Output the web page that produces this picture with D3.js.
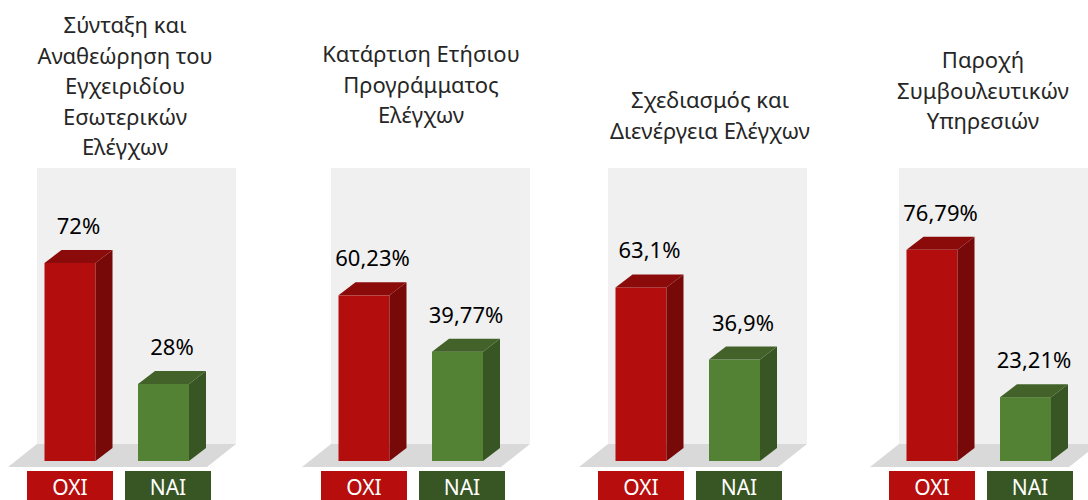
<!DOCTYPE html>
<html>
<head>
<meta charset="utf-8">
<script src="https://cdn.jsdelivr.net/npm/d3@7"></script>
<style>
  body { margin: 0; background: #fff; }
  text { font-family: "Noto Sans", "Open Sans", sans-serif; }
</style>
</head>
<body>
<div id="chart"></div>
<script>
// Four small 3D bar panels: ΟΧΙ / ΝΑΙ answers per question

// Data
const panelTitles = [
    ["Σύνταξη και", "Αναθεώρηση του", "Εγχειριδίου", "Εσωτερικών", "Ελέγχων"],
    ["Κατάρτιση Ετήσιου", "Προγράμματος", "Ελέγχων"],
    ["Σχεδιασμός και", "Διενέργεια Ελέγχων"],
    ["Παροχή", "Συμβουλευτικών", "Υπηρεσιών"]
];
const categories = ["ΟΧΙ", "ΝΑΙ"];
const oxiValues = [72, 60.23, 63.1, 76.79];
const naiValues = [28, 39.77, 36.9, 23.21];

// Layout (panels are not evenly spaced in the original)
const width = 1088;
const height = 500;
const panelLeft = [37, 331, 608, 899];
const titleCenter = [125, 421, 710, 983];
const titleTop = [33, 62, 108, 68];
const wallW = 199, wallTop = 168, floorBack = 444;
const floorDx = -29, floorDy = 23;
const depthX = 17, depthY = -13;

const colors = {
    "ΟΧΙ": {front: "#b30d0d", side: "#770909", top: "#8b0b0b", key: "#b80d0d"},
    "ΝΑΙ": {front: "#548235", side: "#375623", top: "#42622a", key: "#375623"}
};

const svg = d3.select("#chart")
    .append("svg")
    .attr("width", width)
    .attr("height", height);

// scales
const yScale = d3.scaleLinear()
    .domain([0, 100])
    .range([461, 186]);

// bars inside one panel
const xInner = d3.scaleBand()
    .domain(categories)
    .range([7.5, 152])
    .paddingInner(0.4545)
    .paddingOuter(0);

// coloured key boxes under each panel
const xKey = d3.scaleBand()
    .domain(categories)
    .range([-10, 174])
    .paddingInner(0.1224)
    .paddingOuter(0);

const fmt = v => String(v).replace(".", ",") + "%";

panelTitles.forEach((lines, i) => {
    const g = svg.append("g")
        .attr("transform", `translate(${panelLeft[i]}, 0)`);

    // back wall
    g.append("rect")
        .attr("x", 0)
        .attr("y", wallTop)
        .attr("width", wallW)
        .attr("height", floorBack - wallTop)
        .attr("fill", "#f0f0f0");

    // floor
    g.append("path")
        .attr("d", `M0,${floorBack} L${wallW},${floorBack} L${wallW + floorDx},${floorBack + floorDy} L${floorDx},${floorBack + floorDy} Z`)
        .attr("fill", "#d9d9d9");

    const rows = [
        {cat: "ΟΧΙ", value: oxiValues[i]},
        {cat: "ΝΑΙ", value: naiValues[i]}
    ];

    rows.forEach(d => {
        const x0 = xInner(d.cat);
        const x1 = x0 + xInner.bandwidth();
        const yt = yScale(d.value);
        const yb = yScale(0);
        const c = colors[d.cat];

        // front face
        g.append("rect")
            .attr("x", x0)
            .attr("y", yt)
            .attr("width", x1 - x0)
            .attr("height", yb - yt)
            .attr("fill", c.front);

        // side face
        g.append("path")
            .attr("d", `M${x1},${yt} L${x1 + depthX},${yt + depthY} L${x1 + depthX},${yb + depthY} L${x1},${yb} Z`)
            .attr("fill", c.side);

        // top face
        g.append("path")
            .attr("d", `M${x0},${yt} L${x1},${yt} L${x1 + depthX},${yt + depthY} L${x0 + depthX},${yt + depthY} Z`)
            .attr("fill", c.top);

        // value label
        g.append("text")
            .attr("x", (x0 + x1 + depthX) / 2)
            .attr("y", yt + depthY - 16)
            .attr("text-anchor", "middle")
            .style("font-size", "22px")
            .style("fill", "#000")
            .text(fmt(d.value));

        // category key box below
        const kx = xKey(d.cat);
        g.append("rect")
            .attr("x", kx)
            .attr("y", 471)
            .attr("width", xKey.bandwidth())
            .attr("height", 32)
            .attr("fill", c.key);

        g.append("text")
            .attr("x", kx + xKey.bandwidth() / 2)
            .attr("y", 495)
            .attr("text-anchor", "middle")
            .style("font-size", "21px")
            .style("fill", "#fff")
            .text(d.cat);
    });

    // panel title
    const t = svg.append("text")
        .attr("x", titleCenter[i])
        .attr("y", titleTop[i])
        .attr("text-anchor", "middle")
        .style("font-size", "22px")
        .style("fill", "#262626");

    lines.forEach((line, j) => {
        t.append("tspan")
            .attr("x", titleCenter[i])
            .attr("dy", j === 0 ? 0 : 30.5)
            .text(line);
    });
});
</script>
</body>
</html>
